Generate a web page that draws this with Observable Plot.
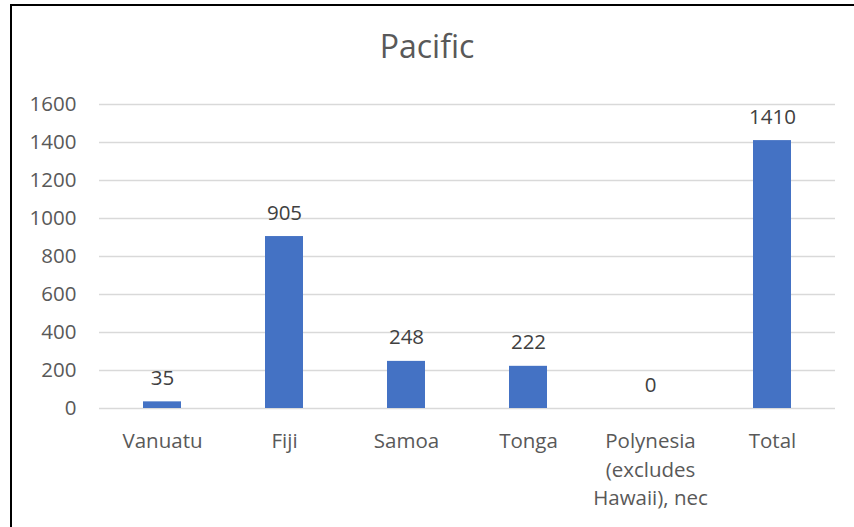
<!DOCTYPE html>
<html>
<head>
<meta charset="utf-8">
<script src="https://cdn.jsdelivr.net/npm/d3@7"></script>
<script src="https://cdn.jsdelivr.net/npm/@observablehq/plot@0.6"></script>
<style>
  html, body { margin: 0; padding: 0; background: #fff; overflow: hidden; }
  #wrap { position: relative; width: 854px; height: 527px; overflow: hidden; font-family: "Open Sans", sans-serif; }
  #frame { position: absolute; left: 10px; top: 4px; width: 1000px; height: 700px; border-top: 2px solid #000; border-left: 2px solid #000; box-sizing: border-box; pointer-events: none; }
  #title { height: 80px; box-sizing: border-box; padding-top: 30px; text-align: center; font-size: 32px; line-height: 32px; color: #595959; }
  svg { display: block; }
</style>
</head>
<body>
<div id="wrap">
  <div id="title">Pacific</div>
  <div id="chart"></div>
  <div id="frame"></div>
</div>
<script>
const categories = ["Vanuatu", "Fiji", "Samoa", "Tonga", "Polynesia (excludes Hawaii), nec", "Total"];
const values = [35, 905, 248, 222, 0, 1410];
const tickLabels = ["Vanuatu", "Fiji", "Samoa", "Tonga", "Polynesia\n(excludes\nHawaii), nec", "Total"];
const yTicks = [0, 200, 400, 600, 800, 1000, 1200, 1400, 1600];

const data = categories.map((c, i) => ({category: c, value: values[i]}));
const labelOf = new Map(categories.map((c, i) => [c, tickLabels[i]]));

const plot = Plot.plot({
  width: 854,
  height: 447,
  marginTop: 24,
  marginBottom: 119,
  marginLeft: 99,
  marginRight: 19,
  style: {fontFamily: "Open Sans, sans-serif", fontSize: "20px", background: "transparent"},
  x: {domain: categories, padding: 0, label: null},
  y: {domain: [0, 1600], label: null},
  marks: [
    Plot.ruleY(yTicks, {stroke: "#d9d9d9", strokeWidth: 1.3}),
    Plot.barY(data, {x: "category", y: "value", fill: "#4472c4", insetLeft: 42, insetRight: 42}),
    Plot.text(data, {x: "category", y: "value", text: d => String(d.value), dy: -17, lineAnchor: "bottom", fill: "#404040", fontSize: 20.5}),
    Plot.axisY({ticks: yTicks, tickSize: 0, tickPadding: 23, fill: "#595959", fontSize: 20.5, tickFormat: d => String(d), label: null}),
    Plot.axisX({tickSize: 0, tickPadding: 19, fill: "#595959", fontSize: 20.5, lineHeight: 1.4, tickFormat: d => labelOf.get(d), label: null})
  ]
});
document.getElementById("chart").appendChild(plot);
</script>
</body>
</html>
